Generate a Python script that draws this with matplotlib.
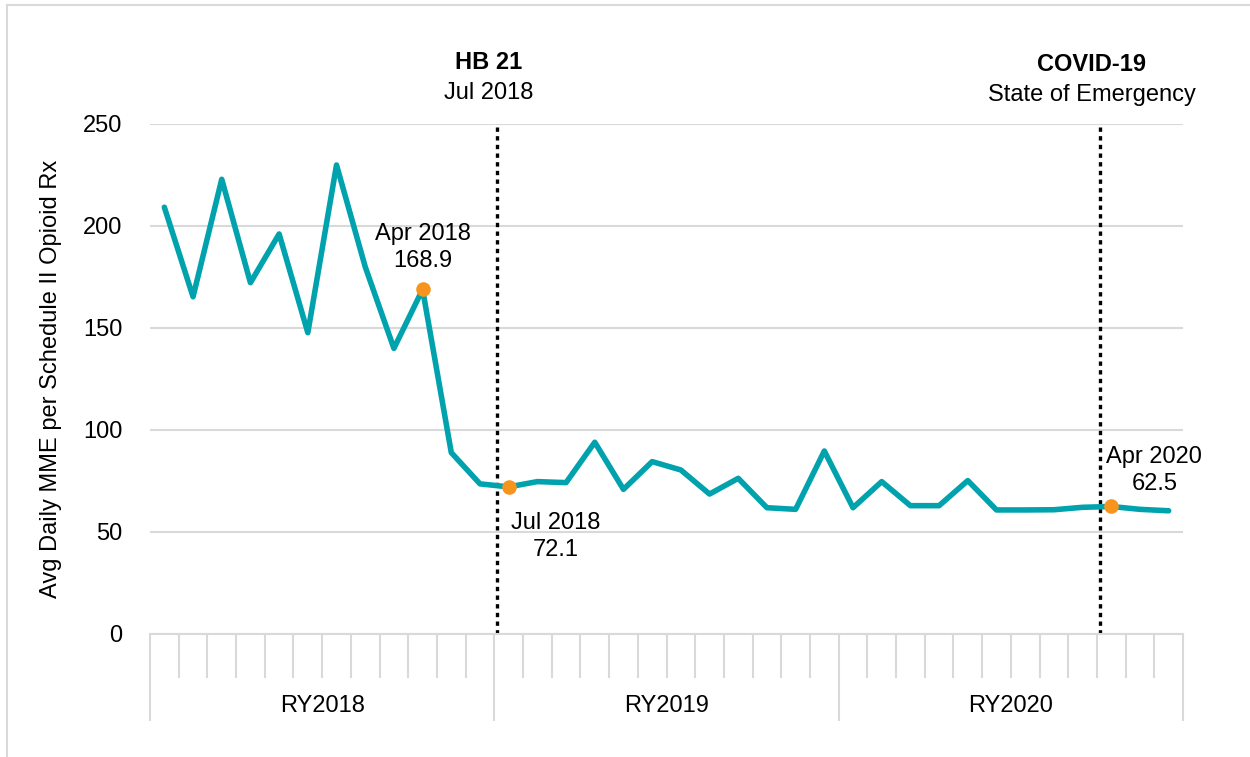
import matplotlib
matplotlib.use("Agg")
import matplotlib.pyplot as plt
from matplotlib.lines import Line2D

plt.rcParams['font.family'] = ['Liberation Sans', 'DejaVu Sans']

# ---- data ----
months = ["Jul 2017", "Aug 2017", "Sep 2017", "Oct 2017", "Nov 2017", "Dec 2017",
          "Jan 2018", "Feb 2018", "Mar 2018", "Apr 2018", "May 2018", "Jun 2018",
          "Jul 2018", "Aug 2018", "Sep 2018", "Oct 2018", "Nov 2018", "Dec 2018",
          "Jan 2019", "Feb 2019", "Mar 2019", "Apr 2019", "May 2019", "Jun 2019",
          "Jul 2019", "Aug 2019", "Sep 2019", "Oct 2019", "Nov 2019", "Dec 2019",
          "Jan 2020", "Feb 2020", "Mar 2020", "Apr 2020", "May 2020", "Jun 2020"]
avg_mme = [209.2, 165.3, 222.9, 172.2, 196.1, 147.7, 229.9, 180.0, 140.0, 168.9,
           88.9, 73.6, 72.1, 74.7, 74.2, 94.0, 70.9, 84.5, 80.4, 68.6,
           76.3, 61.9, 61.1, 89.7, 61.9, 74.7, 62.9, 62.9, 75.2, 60.8,
           60.8, 60.9, 62.1, 62.5, 61.1, 60.4]
years = ["RY2018", "RY2019", "RY2020"]
highlight = ["Apr 2018", "Jul 2018", "Apr 2020"]
events = [("HB 21", "Jul 2018"), ("COVID-19", "State of Emergency")]
event_pos = [11.6, 32.6]
yticks = [0, 50, 100, 150, 200, 250]

TEAL = '#00a3ad'
ORANGE = '#f7941d'
GRID = '#d9d9d9'
FS = 17

fig = plt.figure(figsize=(12.5, 7.57), dpi=100)
ax = fig.add_axes([0.12, 0.1625, 0.8264, 0.6737])

x = list(range(len(months)))
ax.plot(x, avg_mme, color=TEAL, lw=4.0, solid_joinstyle='round',
        solid_capstyle='round', zorder=3)

hx = [months.index(m) for m in highlight]
hy = [avg_mme[i] for i in hx]
ax.plot(hx, hy, 'o', color=ORANGE, ms=10.5, zorder=4, markeredgewidth=0)

ax.set_xlim(-0.5, len(months) - 0.5)
ax.set_ylim(0, 250)
ax.set_yticks(yticks)
ax.yaxis.grid(True, color=GRID, lw=1.5)
ax.set_axisbelow(True)
for s in ['left', 'right', 'top']:
    ax.spines[s].set_visible(False)
ax.spines['bottom'].set_color(GRID)
ax.spines['bottom'].set_linewidth(1.5)
ax.tick_params(axis='y', length=0, pad=20, labelsize=FS)

# month ticks and year ticks
ax.set_xticks([-0.5 + 12 * k for k in range(len(years) + 1)])
ax.set_xticks([-0.5 + k for k in range(len(months) + 1)], minor=True)
ax.tick_params(axis='x', which='major', length=62.6, width=1.5, color=GRID,
               labelbottom=False)
ax.tick_params(axis='x', which='minor', length=31.7, width=1.5, color=GRID)
for k, yr in enumerate(years):
    ax.annotate(yr, xy=(12 * k + 5.5, 0), xycoords=('data', 'axes fraction'),
                xytext=(0, -52), textcoords='offset points',
                ha='center', va='center', fontsize=FS)

ax.set_ylabel("Avg Daily MME per Schedule II Opioid Rx", fontsize=FS, labelpad=15)

# event lines
for (title, sub), xp in zip(events, event_pos):
    ax.axvline(xp, color='black', lw=2.4, linestyle=(0, (1.3, 1.3)), zorder=2)

ax.annotate("HB 21", xy=(event_pos[0], 1), xycoords=('data', 'axes fraction'),
            xytext=(-6, 44), textcoords='offset points', ha='center', va='center',
            fontsize=FS, fontweight='bold')
ax.annotate("Jul 2018", xy=(event_pos[0], 1), xycoords=('data', 'axes fraction'),
            xytext=(-6, 22), textcoords='offset points', ha='center', va='center',
            fontsize=FS)
ax.annotate("COVID-19", xy=(event_pos[1], 1), xycoords=('data', 'axes fraction'),
            xytext=(-6, 43), textcoords='offset points', ha='center', va='center',
            fontsize=FS, fontweight='bold')
ax.annotate("State of Emergency", xy=(event_pos[1], 1), xycoords=('data', 'axes fraction'),
            xytext=(-6, 21), textcoords='offset points', ha='center', va='center',
            fontsize=FS)

# point labels
offsets = [(0, 30), (34, -36), (31, 26)]
for m, (dx, dy) in zip(highlight, offsets):
    i = months.index(m)
    ax.annotate(f"{m}\n{avg_mme[i]:.1f}", xy=(i, avg_mme[i]), xytext=(dx, dy),
                textcoords='offset points', ha='center', va='center',
                fontsize=FS, linespacing=1.3)

# outer frame (left and top edges)
fig.add_artist(Line2D([7 / 1250, 7 / 1250], [0, 1 - 5 / 757], transform=fig.transFigure,
                      color=GRID, lw=1.5))
fig.add_artist(Line2D([7 / 1250, 1], [1 - 5 / 757, 1 - 5 / 757], transform=fig.transFigure,
                      color=GRID, lw=1.5))

fig.savefig("out.png", dpi=100)
